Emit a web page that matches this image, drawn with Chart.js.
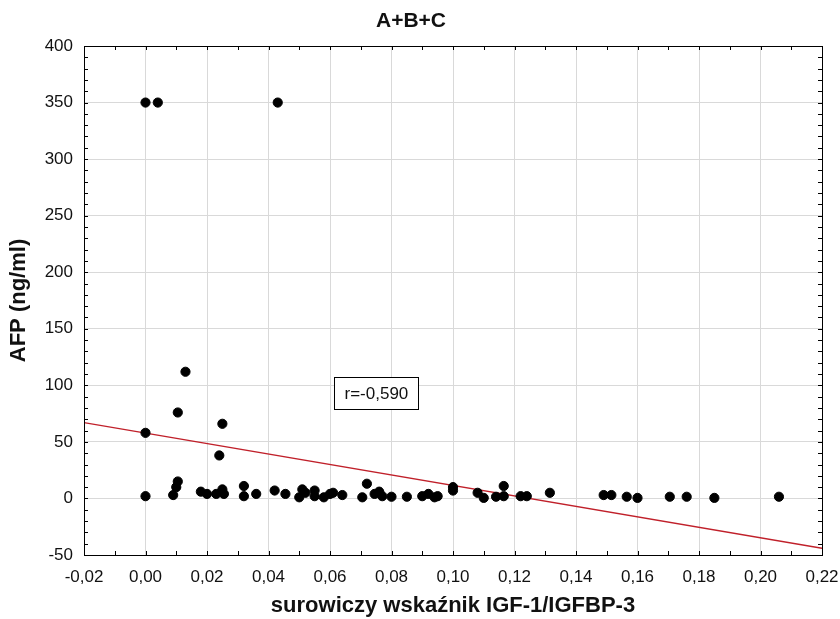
<!DOCTYPE html>
<html>
<head>
<meta charset="utf-8">
<script src="https://cdn.jsdelivr.net/npm/chart.js@4"></script>
<style>
  html, body { margin: 0; padding: 0; background: #fff; }
  canvas { display: block; }
</style>
</head>
<body>
<canvas id="chart" width="840" height="619"></canvas>
<script>
// scatter values
const ratioX = [0.000, 0.004, 0.043, 0.013, 0.0105, 0.025, 0.000, 0.024, 0.0105, 0.010,
  0.000, 0.009, 0.018, 0.020, 0.023, 0.025, 0.0255, 0.032, 0.032, 0.036,
  0.042, 0.0455, 0.050, 0.051, 0.052, 0.055, 0.055, 0.058, 0.060, 0.061,
  0.064, 0.0705, 0.072, 0.0745, 0.076, 0.077, 0.080, 0.085, 0.090, 0.092,
  0.094, 0.095, 0.100, 0.100, 0.108, 0.110, 0.114, 0.1165, 0.1165, 0.122,
  0.124, 0.1315, 0.149, 0.1515, 0.1565, 0.160, 0.1705, 0.176, 0.185, 0.206];
const afpY = [350, 350, 350, 112, 76, 66, 58, 38, 15, 10,
  2, 3, 6, 4, 4, 8, 4, 11, 2, 4,
  7, 4, 1, 8, 5, 7, 2, 1, 4, 5,
  3, 1, 13, 4, 6, 2, 1.5, 1.5, 2, 4,
  1, 2, 7, 10, 5, 0.5, 1.5, 11, 2, 2,
  2, 5, 3, 3, 1.5, 0.5, 1.5, 1.5, 0.5, 1.5];

// fitted line end points
const fitX = [-0.02, 0.22];
const fitY = [67, -44];

const rLabel = 'r=-0,590';
const rAt = { x: 0.0612, y: 107 };

const xMin = -0.02, xMax = 0.22, xStep = 0.02;
const yMin = -50, yMax = 400, yStep = 50;

const fmtX = v => {
  if (Math.abs(v) < 1e-9) v = 0;
  return v.toFixed(2).replace('.', ',');
};

const FONT = "'Liberation Sans', Arial, sans-serif";

const frame = {
  id: 'frame',
  afterDatasetsDraw(chart) {
    const { ctx, chartArea: a, scales: { x, y } } = chart;
    ctx.save();
    ctx.strokeStyle = '#000';
    ctx.lineWidth = 1;
    ctx.strokeRect(Math.round(a.left) + 0.5, Math.round(a.top) + 0.5,
      Math.round(a.right - a.left), Math.round(a.bottom - a.top));
    // small inward ticks on all four sides
    ctx.beginPath();
    for (let i = 0; i <= 24; i++) {
      const px = Math.round(x.getPixelForValue(xMin + i * 0.01)) + 0.5;
      ctx.moveTo(px, a.top); ctx.lineTo(px, a.top + 4);
      ctx.moveTo(px, a.bottom); ctx.lineTo(px, a.bottom - 4);
    }
    for (let i = 0; i <= 45; i++) {
      const py = Math.round(y.getPixelForValue(yMin + i * 10)) + 0.5;
      ctx.moveTo(a.left, py); ctx.lineTo(a.left + 4, py);
      ctx.moveTo(a.right, py); ctx.lineTo(a.right - 4, py);
    }
    ctx.stroke();

    // r label box
    ctx.font = '17px ' + FONT;
    const bx = Math.round(x.getPixelForValue(rAt.x)) + 0.5;
    const by = Math.round(y.getPixelForValue(rAt.y)) + 0.5;
    const w = Math.round(ctx.measureText(rLabel).width + 20);
    ctx.fillStyle = '#fff';
    ctx.fillRect(bx, by, w, 32);
    ctx.strokeRect(bx, by, w, 32);
    ctx.fillStyle = '#111';
    ctx.textBaseline = 'middle';
    ctx.fillText(rLabel, bx + 10, by + 17);
    ctx.restore();
  }
};

new Chart(document.getElementById('chart'), {
  type: 'scatter',
  data: {
    datasets: [
      {
        label: 'AFP',
        data: ratioX.map((v, i) => ({ x: v, y: afpY[i] })),
        backgroundColor: '#000',
        borderColor: '#000',
        pointRadius: 4.6,
        pointHoverRadius: 4.6
      },
      {
        type: 'line',
        label: 'fit',
        data: fitX.map((v, i) => ({ x: v, y: fitY[i] })),
        borderColor: '#c0202a',
        borderWidth: 1.4,
        pointRadius: 0,
        fill: false
      }
    ]
  },
  plugins: [frame],
  options: {
    responsive: false,
    animation: false,
    layout: { padding: { top: 0, right: 18, bottom: 0, left: 0 } },
    plugins: {
      legend: { display: false },
      tooltip: { enabled: false },
      title: {
        display: true,
        text: 'A+B+C',
        color: '#111',
        font: { family: FONT, size: 21, weight: 'bold', lineHeight: 1.2 },
        padding: { top: 9, bottom: 11.8 }
      }
    },
    scales: {
      x: {
        type: 'linear',
        min: xMin, max: xMax,
        afterFit: s => { s.height = 64; s.paddingLeft = 0; s.paddingRight = 0; },
        ticks: { stepSize: xStep, callback: fmtX, color: '#111', padding: 12, maxRotation: 0,
          font: { family: FONT, size: 17 } },
        grid: { color: '#d9d9d9', drawTicks: false },
        border: { color: '#000' },
        title: { display: true, text: 'surowiczy wskaźnik IGF-1/IGFBP-3', color: '#111',
          font: { family: FONT, size: 22, weight: 'bold', lineHeight: 1.2 },
          padding: { top: 0, bottom: 0 } }
      },
      y: {
        min: yMin, max: yMax,
        afterFit: s => { s.width = 84; },
        ticks: { stepSize: yStep, color: '#111', padding: 11,
          font: { family: FONT, size: 17 } },
        grid: { color: '#d9d9d9', drawTicks: false },
        border: { color: '#000' },
        title: { display: true, text: 'AFP (ng/ml)', color: '#111',
          font: { family: FONT, size: 22, weight: 'bold', lineHeight: 1.2 },
          padding: { top: 6, bottom: 0 } }
      }
    }
  }
});
</script>
</body>
</html>
